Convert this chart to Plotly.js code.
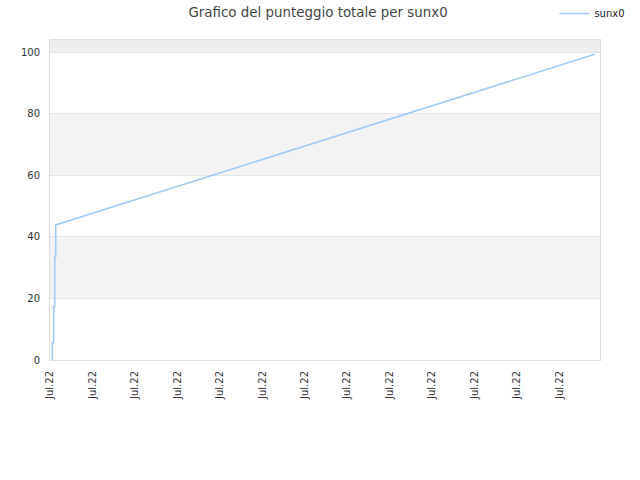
<!DOCTYPE html>
<html>
<head>
<meta charset="utf-8">
<script src="https://cdn.plot.ly/plotly-3.0.1.min.js"></script>
<style>html,body{margin:0;padding:0;background:#fff;}#chart{width:640px;height:480px;}</style>
</head>
<body>
<div id="chart"></div>
<script>
// Data
const seriesName = "sunx0";
const xValues = [0.054, 0.054, 0.087, 0.087, 0.111, 0.111, 0.134, 0.134, 12.83];
const yValues = [0, 5.6, 5.6, 17.3, 17.3, 33.6, 33.6, 43.9, 99.35];
const xTickValues = [0, 1, 2, 3, 4, 5, 6, 7, 8, 9, 10, 11, 12];
const xTickLabels = ["Jul.22","Jul.22","Jul.22","Jul.22","Jul.22","Jul.22","Jul.22","Jul.22","Jul.22","Jul.22","Jul.22","Jul.22","Jul.22"];
const yTickValues = [0, 20, 40, 60, 80, 100];
const bandStarts = [20, 60, 100];
const bandEnds = [40, 80, 104];

const bandColors = ["#f3f3f3", "#f3f3f3", "#eeeeee"];
const shapes = bandStarts.map((s, i) => ({
  type: "rect", xref: "paper", yref: "y", x0: 0, x1: 1, y0: s, y1: bandEnds[i],
  fillcolor: bandColors[i], line: {width: 0}, layer: "below"
}));

const trace = {
  x: xValues, y: yValues, type: "scatter", mode: "lines", name: seriesName,
  line: {color: "#9ecaf5", width: 1.6}
};

const layout = {
  width: 640, height: 480,
  margin: {l: 50, r: 40, t: 40, b: 120, autoexpand: false},
  paper_bgcolor: "#ffffff", plot_bgcolor: "#ffffff",
  font: {family: "DejaVu Sans, sans-serif", size: 10, color: "#333"},
  title: {text: "Grafico del punteggio totale per sunx0", x: 0.497, xanchor: "center", y: 0.975, yanchor: "middle",
          font: {family: "DejaVu Sans, sans-serif", size: 13.4, color: "#444"}},
  showlegend: true,
  legend: {x: 0.985, xanchor: "right", y: 0.972, yanchor: "middle", yref: "container", xref: "container",
           font: {size: 10, color: "#222"}, bgcolor: "rgba(0,0,0,0)", itemwidth: 30},
  xaxis: {
    range: [0, 12.956], tickmode: "array", tickvals: xTickValues, ticktext: xTickLabels,
    tickangle: -90, showgrid: false, zeroline: false, ticks: "", showline: true, linecolor: "#dddddd", mirror: true,
    tickfont: {size: 10, color: "#333"}, ticklabelstandoff: 6, fixedrange: true
  },
  yaxis: {
    range: [0, 104], tickmode: "array", tickvals: yTickValues, showgrid: true, gridcolor: "#e4e4e4",
    zeroline: false, ticks: "", showline: true, linecolor: "#dddddd", mirror: true,
    tickfont: {size: 10, color: "#333"}, ticklabelstandoff: 7, fixedrange: true
  },
  shapes: shapes
};

Plotly.newPlot("chart", [trace], layout, {displayModeBar: false, staticPlot: true});
</script>
</body>
</html>
